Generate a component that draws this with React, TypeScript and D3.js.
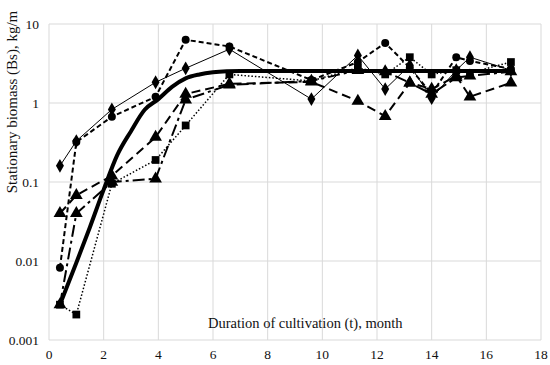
import React from 'react';
import * as d3 from 'd3';

// sampling times (months) shared by the measured series
const months = [0.4, 1.0, 2.3, 3.9, 5.0, 6.6, 9.6, 11.3, 12.3, 13.2, 14.0, 14.9, 15.4, 16.9];

// measured biomass, kg/m
const diamondSeries = [0.16, 0.33, 0.83, 1.83, 2.75, 4.8, 1.12, 4.0, 1.5, 3.0, 1.15, 2.6, 3.8, 2.6];
const circleSeries = [0.0082, 0.32, 0.67, 1.2, 6.3, 5.2, 1.95, 3.3, 5.75, 2.8, 1.3, 3.8, 3.4, 2.7];
const triangleSeriesA = [0.04, 0.068, 0.12, 0.37, 1.3, 1.75, 1.85, 1.06, 0.68, 1.8, 1.5, 2.2, 1.2, 1.8];
const triangleSeriesB = [0.0028, 0.04, 0.1, 0.11, 1.1, 1.7, 1.9, 2.6, 2.5, 1.8, 1.3, 2.1, 2.2, 2.5];
const squareSeries = [0.0028, 0.0021, 0.095, 0.19, 0.52, 2.3, 1.9, 2.8, 2.3, 3.8, 2.3, 2.6, 2.4, 3.3];

// model curve
const modelMonths = [0.4, 1.0, 1.5, 2.0, 2.5, 3.0, 3.5, 4.0, 4.5, 5.0, 5.5, 6.0, 6.5, 7.0, 16.9];
const modelValues = [0.0028, 0.0095, 0.027, 0.08, 0.22, 0.44, 0.82, 1.12, 1.6, 2.05, 2.3, 2.45, 2.52, 2.54, 2.54];

const xTicks = [0, 2, 4, 6, 8, 10, 12, 14, 16, 18];
const yTicks = [0.001, 0.01, 0.1, 1, 10];
const yTickLabels = ['0.001', '0.01', '0.1', '1', '10'];

const W = 550;
const H = 365;
const margin = { top: 24, right: 9, bottom: 25, left: 49 };

interface Pt { t: number; v: number; }

const font = '"Liberation Serif", "Times New Roman", serif';

const App: React.FC = () => {
  const x = d3.scaleLinear().domain([0, 18]).range([margin.left, W - margin.right]);
  const y = d3.scaleLog().domain([0.001, 10]).range([H - margin.bottom, margin.top]);

  const line = d3.line<Pt>().x(d => x(d.t)).y(d => y(d.v));
  const smooth = d3.line<Pt>().x(d => x(d.t)).y(d => y(d.v)).curve(d3.curveMonotoneX);

  const toPts = (vals: number[]) => months.map((t, i) => ({ t, v: vals[i] }));
  const model = modelMonths.map((t, i) => ({ t, v: modelValues[i] }));

  const series = [
    { vals: squareSeries, dash: '1.5,2', width: 1.5, sym: d3.symbolSquare, size: 60 },
    { vals: triangleSeriesB, dash: '12,4,3,4', width: 2, sym: d3.symbolTriangle, size: 70 },
    { vals: triangleSeriesA, dash: '9,5', width: 2, sym: d3.symbolTriangle, size: 70 },
    { vals: circleSeries, dash: '5,3', width: 2, sym: d3.symbolCircle, size: 50 },
    { vals: diamondSeries, dash: null, width: 1, sym: d3.symbolDiamond, size: 55 },
  ];

  const txt = { fontFamily: font, fill: '#111' };

  return (
    <svg width={W} height={H} style={{ position: 'absolute', left: 0, top: 0, background: '#fff' }}>
      {/* grid */}
      <g stroke="#d9d9d9" strokeWidth={1}>
        {xTicks.map(t => (
          <line key={'gx' + t} x1={x(t)} x2={x(t)} y1={y(10)} y2={y(0.001)} />
        ))}
        {yTicks.map(t => (
          <line key={'gy' + t} x1={x(0)} x2={x(18)} y1={y(t)} y2={y(t)} />
        ))}
      </g>

      {/* tick labels */}
      {xTicks.map(t => (
        <text key={'tx' + t} x={x(t)} y={H - 6} textAnchor="middle" style={{ ...txt, fontSize: 13.5 }}>{t}</text>
      ))}
      {yTicks.map((t, i) => (
        <text key={'ty' + t} x={margin.left - 10} y={y(t) + 4.5} textAnchor="end" style={{ ...txt, fontSize: 13.5 }}>
          {yTickLabels[i]}
        </text>
      ))}

      {/* measured series */}
      {series.map((s, i) => {
        const pts = toPts(s.vals);
        const sym = d3.symbol().type(s.sym).size(s.size);
        return (
          <g key={'s' + i}>
            <path d={line(pts) || ''} fill="none" stroke="#000" strokeWidth={s.width}
              strokeDasharray={s.dash || undefined} />
            {pts.map((p, j) => (
              <path key={j} d={sym() || ''} fill="#000"
                transform={`translate(${x(p.t)},${y(p.v)})`} />
            ))}
          </g>
        );
      })}

      {/* model curve */}
      <path d={smooth(model) || ''} fill="none" stroke="#000" strokeWidth={4} />

      {/* axis titles */}
      <text x={208} y={328} style={{ ...txt, fontSize: 14.5 }}>
        Duration of cultivation (t), month
      </text>
      <text transform="translate(17,102) rotate(-90)" textAnchor="middle" style={{ ...txt, fontSize: 15 }}>
        Stationary biomass (Bs), kg/m
      </text>
    </svg>
  );
};

export default App;
